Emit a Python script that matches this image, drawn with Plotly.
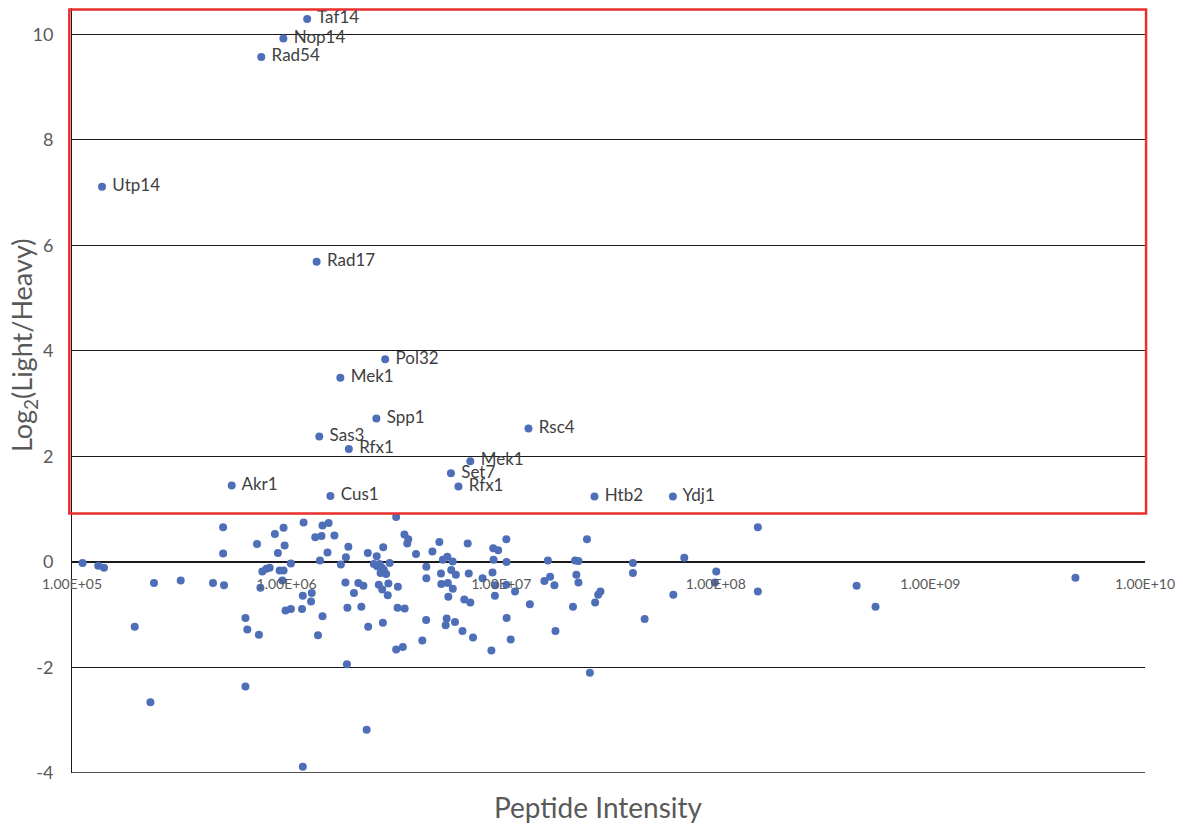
import plotly.graph_objects as go

# Unlabelled peptides: intensity and log2(light/heavy)
bg_intensity = [
    1.12e5, 1.325e5, 1.41e5, 2.41e5, 3.21e5, 4.54e5, 5.11e5, 5.06e5, 5.06e5, 1.96e5,
    2.32e5, 6.43e5, 6.43e5, 6.56e5, 7.43e5, 7.28e5, 7.71e5, 8.05e5, 8.34e5, 7.55e5,
    8.82e5, 9.68e5, 9.79e5, 9.11e5, 9.28e5, 9.68e5, 9.55e5, 1.047e6, 1.19e6, 9.89e5,
    1.047e6, 1.18e6, 1.31e6, 1.30e6, 1.47e6, 1.40e6, 1.20e6, 1.47e6, 1.57e6, 1.36e6,
    1.455e6, 1.67e6, 1.55e6, 1.43e6, 1.79e6, 1.89e6, 1.94e6, 1.88e6, 2.06e6, 1.92e6,
    1.91e6, 1.19e6, 2.16e6, 2.28e6, 3.24e6, 2.39e6, 2.63e6, 2.82e6, 3.02e6, 2.55e6,
    2.64e6, 2.71e6, 2.78e6, 2.74e6, 2.84e6, 2.91e6, 2.69e6, 2.79e6, 2.98e6, 2.96e6,
    3.30e6, 2.23e6, 3.29e6, 3.55e6, 2.40e6, 2.81e6, 3.24e6, 3.48e6, 2.36e6, 3.54e6,
    3.69e6, 3.65e6, 4.01e6, 4.78e6, 5.15e6, 4.48e6, 4.48e6, 5.35e6, 5.61e6, 5.94e6,
    5.85e6, 6.15e6, 5.24e6, 5.26e6, 5.64e6, 5.95e6, 5.67e6, 4.47e6, 5.57e6, 5.51e6,
    6.09e6, 4.29e6, 6.60e6, 7.39e6, 6.98e6, 7.06e6, 6.73e6, 7.18e6, 8.19e6, 9.18e6,
    9.68e6, 9.21e6, 9.11e6, 1.057e7, 1.059e7, 9.38e6, 9.35e6, 1.057e7, 1.16e7, 1.06e7,
    1.107e7, 9.0e6, 1.36e7, 1.65e7, 1.59e7, 1.69e7, 1.77e7, 1.79e7, 2.16e7, 2.21e7,
    2.29e7, 2.24e7, 2.29e7, 2.51e7, 2.59e7, 2.74e7, 2.83e7, 2.90e7, 4.11e7, 4.11e7,
    4.66e7, 6.34e7, 7.13e7, 1.005e8, 9.91e7, 1.57e8, 1.57e8, 4.53e8, 5.55e8, 4.74e9,
]
bg_ratio = [
    -0.02, -0.07, -0.11, -0.40, -0.35, -0.40, -0.44, 0.66, 0.16, -1.23,
    -2.66, -2.36, -1.06, -1.28, -1.38, 0.34, -0.18, -0.13, -0.11, -0.49,
    0.53, 0.65, 0.31, 0.17, -0.16, -0.16, -0.35, -0.03, -0.64, -0.92,
    -0.89, -0.89, -0.59, -0.75, -1.03, -1.39, 0.75, 0.69, 0.74, 0.47,
    0.49, 0.50, 0.18, 0.03, -0.05, 0.09, 0.29, -0.39, -0.59, -0.87,
    -1.94, -3.88, -0.40, -0.45, 0.85, 0.17, 0.11, 0.28, -0.02, -0.04,
    -0.08, -0.04, -0.11, -0.21, -0.15, -0.23, -0.43, -0.52, -0.41, -0.63,
    -0.47, -0.85, -0.87, -0.88, -1.23, -1.15, -1.66, -1.61, -3.18, 0.52,
    0.43, 0.35, 0.15, 0.20, 0.38, -0.09, -0.31, 0.04, 0.10, 0.01,
    -0.15, -0.24, -0.22, -0.42, -0.40, -0.51, -0.66, -1.10, -1.07, -1.20,
    -1.14, -1.49, -1.31, -1.43, 0.35, -0.22, -0.71, -0.77, -0.31, 0.26,
    0.22, 0.04, -0.20, 0.43, 0.00, -0.44, -0.64, -0.43, -0.56, -1.06,
    -1.47, -1.68, -0.80, 0.03, -0.36, -0.28, -0.44, -1.31, -0.85, 0.03,
    0.02, -0.24, -0.39, 0.43, -2.10, -0.77, -0.62, -0.56, -0.02, -0.21,
    -1.08, -0.62, 0.08, -0.18, -0.39, 0.66, -0.56, -0.45, -0.85, -0.30,
]

# Labelled (enriched) proteins
hit_names = ["Taf14", "Nop14", "Rad54", "Utp14", "Rad17", "Pol32", "Mek1", "Spp1", "Rsc4",
             "Sas3", "Rfx1", "Mek1", "Set7", "Rfx1", "Cus1", "Htb2", "Ydj1", "Akr1"]
hit_intensity = [1.247e6, 9.66e5, 7.62e5, 1.38e5, 1.38e6, 2.88e6, 1.78e6, 2.62e6, 1.34e7,
                 1.42e6, 1.95e6, 7.18e6, 5.83e6, 6.32e6, 1.60e6, 2.72e7, 6.31e7, 5.55e5]
hit_ratio = [10.29, 9.92, 9.57, 7.11, 5.69, 3.84, 3.49, 2.72, 2.53,
             2.38, 2.14, 1.91, 1.68, 1.43, 1.25, 1.24, 1.24, 1.45]

x_tickvals = [1e5, 1e6, 1e7, 1e8, 1e9, 1e10]
x_ticktext = ["1.00E+05", "1.00E+06", "1.00E+07", "1.00E+08", "1.00E+09", "1.00E+10"]
y_tickvals = [-4, -2, 0, 2, 4, 6, 8, 10]
y_ticktext = ["-4", "-2", "0", "2", "4", "6", "8", "10"]

FONT = "Lato"
DOT = "#4E6FB8"
GRAY = "#595959"
GRID = "#1a1a1a"

fig = go.Figure()
fig.add_trace(go.Scatter(
    x=bg_intensity, y=bg_ratio, mode="markers",
    marker=dict(color=DOT, size=8), showlegend=False, hoverinfo="x+y",
))
fig.add_trace(go.Scatter(
    x=hit_intensity, y=hit_ratio, mode="markers+text",
    text=["\u00a0" + n for n in hit_names],
    textposition="middle right", textfont=dict(family=FONT, size=17, color="#404040"),
    marker=dict(color=DOT, size=8), showlegend=False, cliponaxis=False,
))

ymin, ymax = -4, 10.5
fig.update_layout(
    width=1183, height=826,
    margin=dict(l=72, r=36, t=8, b=53),
    paper_bgcolor="white", plot_bgcolor="white",
    font=dict(family=FONT, color=GRAY),
    xaxis=dict(
        type="log", range=[5, 10], tickvals=x_tickvals, ticktext=x_ticktext,
        showgrid=False, zeroline=False, showline=False,
        anchor="free", position=(0 - ymin) / (ymax - ymin),
        tickfont=dict(family=FONT, size=14, color=GRAY), ticklabelstandoff=12,
    ),
    yaxis=dict(
        range=[ymin, ymax], tickvals=y_tickvals, ticktext=y_ticktext,
        showgrid=True, gridcolor=GRID, gridwidth=1,
        zeroline=True, zerolinecolor=GRID, zerolinewidth=1.5,
        showline=True, linecolor=GRID, linewidth=1,
        tickfont=dict(family=FONT, size=18, color=GRAY), ticklabelstandoff=14,
    ),
    shapes=[
        dict(type="line", xref="paper", yref="y", x0=0, x1=1, y0=ymin, y1=ymin,
             line=dict(color=GRID, width=1.5)),
        dict(type="rect", xref="paper", yref="paper",
             x0=-0.0025, x1=1.001, y0=(773 - 513.5) / 765, y1=0.998,
             line=dict(color="#E8312F", width=2.5), fillcolor="rgba(0,0,0,0)"),
    ],
    annotations=[
        dict(text="Peptide Intensity", xref="paper", yref="paper",
             x=0.491, y=-0.044, xanchor="center", yanchor="middle", showarrow=False,
             font=dict(family=FONT, size=28, color=GRAY)),
        dict(text="Log<sub>2</sub>(Light/Heavy)", xref="paper", yref="paper",
             x=-0.045, y=0.559, xanchor="center", yanchor="middle", showarrow=False,
             textangle=-90, font=dict(family=FONT, size=27, color=GRAY)),
    ],
)

fig.write_html("out.html")
